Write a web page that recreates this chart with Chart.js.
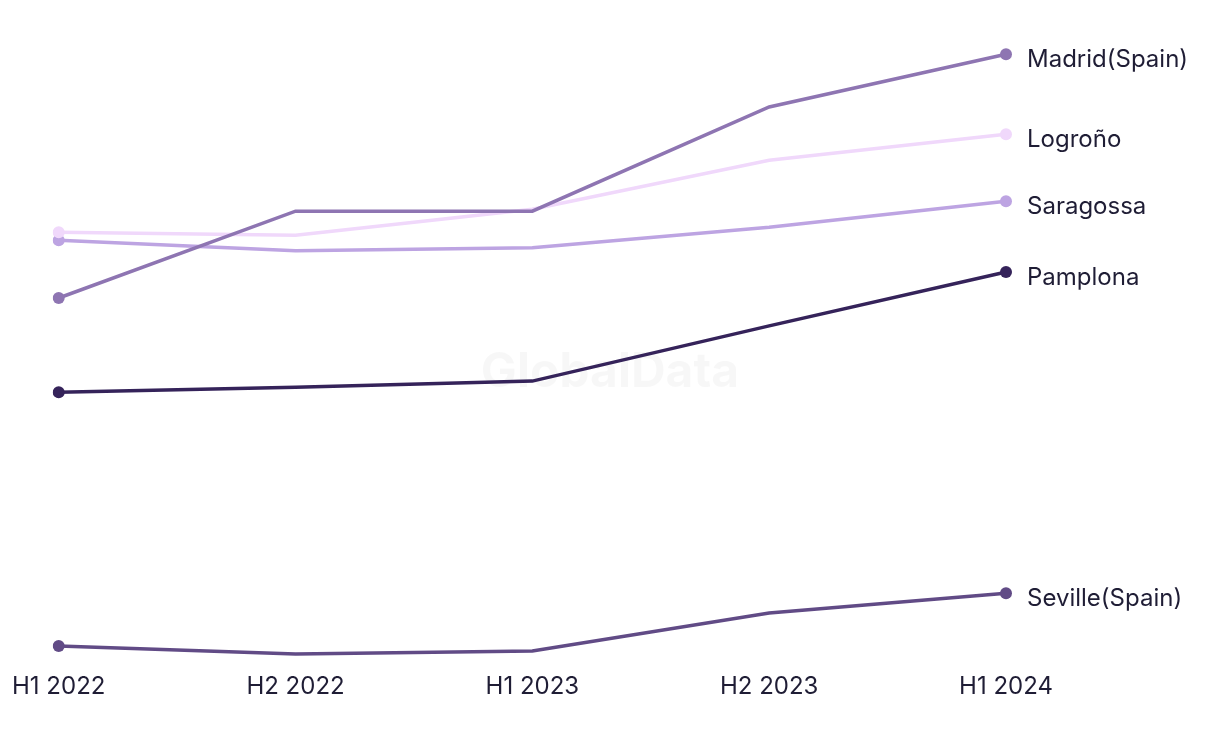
<!DOCTYPE html>
<html lang="en">
<head>
<meta charset="UTF-8">
<title>Cities</title>
<script src="https://cdn.jsdelivr.net/npm/chart.js"></script>
<style>
    body { margin: 0; background: #fff; }
    #wrap { width: 1220px; height: 744px; position: relative; }
</style>
</head>
<body>
<div id="wrap"><canvas id="cityChart"></canvas></div>
<script>
// periods on the x axis
const periods = ['H1 2022', 'H2 2022', 'H1 2023', 'H2 2023', 'H1 2024'];

// values (index scale, no axis shown)
const madrid = [58.4, 72.4, 72.4, 89.2, 97.7];
const logrono = [69.0, 68.5, 72.7, 80.6, 84.8];
const saragossa = [67.7, 66.0, 66.5, 69.8, 74.0];
const pamplona = [43.2, 44.0, 45.0, 53.9, 62.6];
const seville = [2.3, 1.0, 1.5, 7.6, 10.8];

const names = ['Madrid(Spain)', 'Logroño', 'Saragossa', 'Pamplona', 'Seville(Spain)'];
const colours = ['#8e75b2', '#f0d8fb', '#bda4e2', '#35235a', '#614b86'];
const series = [madrid, logrono, saragossa, pamplona, seville];

const FONT = 'Inter, "Liberation Sans", sans-serif';
const TEXT = '#1f1d35';

// only first and last point get a dot
function endDot(c) {
    const last = c.dataset.data.length - 1;
    return (c.dataIndex === 0 || c.dataIndex === last) ? 6 : 0;
}

// faint watermark behind the lines
const watermark = {
    id: 'watermark',
    beforeDatasetsDraw(chart) {
        const { ctx } = chart;
        ctx.save();
        ctx.font = 'bold 48px ' + FONT;
        ctx.fillStyle = 'rgba(0,0,0,0.03)';
        ctx.textAlign = 'center';
        ctx.textBaseline = 'middle';
        ctx.fillText('GlobalData', 610, 373);
        ctx.restore();
    }
};

// series names next to the last point
const endLabels = {
    id: 'endLabels',
    afterDatasetsDraw(chart) {
        const ctx = chart.ctx;
        ctx.save();
        ctx.font = '24px ' + FONT;
        ctx.fillStyle = TEXT;
        ctx.textAlign = 'left';
        ctx.textBaseline = 'middle';
        chart.data.datasets.forEach((ds, i) => {
            const meta = chart.getDatasetMeta(i);
            const pt = meta.data[meta.data.length - 1];
            ctx.fillText(ds.label, pt.x + 21, pt.y + 6);
        });
        ctx.restore();
    }
};

new Chart(document.getElementById('cityChart'), {
    type: 'line',
    data: {
        labels: periods,
        datasets: series.map((d, i) => ({
            label: names[i],
            data: d,
            borderColor: colours[i],
            backgroundColor: colours[i],
            borderWidth: 3.5,
            tension: 0,
            pointRadius: endDot,
            pointHoverRadius: endDot,
            pointBorderWidth: 0
        }))
    },
    options: {
        responsive: true,
        maintainAspectRatio: false,
        animation: false,
        layout: { padding: { left: 56, right: 214, top: 40, bottom: 31 } },
        plugins: {
            legend: { display: false },
            tooltip: { enabled: false }
        },
        scales: {
            x: {
                offset: false,
                grid: { display: false, drawTicks: false },
                border: { display: false },
                ticks: { color: TEXT, font: { family: FONT, size: 24 }, padding: 12, maxRotation: 0 }
            },
            y: {
                display: false,
                min: 0,
                max: 100
            }
        }
    },
    plugins: [watermark, endLabels]
});
</script>
</body>
</html>
